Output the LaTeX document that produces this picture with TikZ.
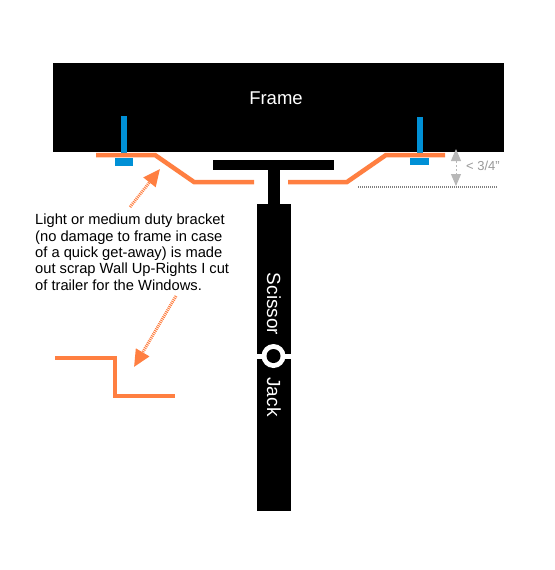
\documentclass[tikz,border=0pt]{standalone}
\usepackage{fontspec}
\setmainfont{Liberation Sans}
\usetikzlibrary{arrows.meta}
\definecolor{brk}{HTML}{FF7F41}
\definecolor{blt}{HTML}{0090D6}
\definecolor{dimc}{HTML}{B8B8B8}
\tikzset{
  bracket/.style={draw=brk,line width=4.5pt,line join=miter},
  solidbox/.style={fill=black,draw=none},
  bolt/.style={fill=blt,draw=none},
  pointer/.style={draw=brk,line width=3pt,dash pattern=on 1pt off 1pt,-{Triangle[length=17pt,width=15pt,fill=brk,sep=0pt]}},
  dimarrow/.style={draw=dimc,line width=1pt,dash pattern=on 2pt off 2pt,{Triangle[length=12pt,width=10pt,fill=dimc]}-{Triangle[length=12pt,width=10pt,fill=dimc]}},
  whitelabel/.style={text=white,inner sep=0pt},
}
\begin{document}
\begin{tikzpicture}[x=1pt,y=-1pt]
\useasboundingbox (0,0) rectangle (554,570);
% frame
\fill[solidbox] (53,63) rectangle (504,152);
\node[whitelabel,font=\fontsize{18.5}{20}\selectfont] (frame) at (276,98) {Frame};
% jack
\fill[solidbox] (213,160) rectangle (334,170);
\fill[solidbox] (268,170) rectangle (280,204);
\fill[solidbox] (257,204) rectangle (291,511);
\fill[white] (257,354) rectangle (291,358.5);
\fill[white] (273.5,356) circle (12);
\fill[black] (273.5,356) circle (7);
\node[whitelabel,rotate=-90,font=\fontsize{19}{20}\selectfont] (sc) at (274,304) {Scissor};
\node[whitelabel,rotate=-90,font=\fontsize{19}{20}\selectfont] (jk) at (274,397) {Jack};
% bolts
\fill[bolt] (121,116) rectangle (127,153);
\fill[bolt] (114.5,157.5) rectangle (133,166);
\fill[bolt] (417,117) rectangle (423,153);
\fill[bolt] (410,157.5) rectangle (429,165);
% brackets
\draw[bracket] (96,155) -- (155,155) -- (194,182) -- (254,182);
\draw[bracket] (445,155) -- (386,155) -- (347,182) -- (288,182);
\draw[bracket] (55,358) -- (115,358) -- (115,396) -- (175,396);
% text
\node[anchor=north west,inner sep=0pt,align=left,font=\fontsize{14.7}{16.3}\selectfont] (txt) at (35,214)
 {Light or medium duty bracket\\(no damage to frame in case\\of a quick get-away) is made\\out scrap Wall Up-Rights I cut\\of trailer for the Windows.};
% pointers
\coordinate (p1s) at (130,207); \coordinate (p1e) at (160,169);
\coordinate (p2s) at (176,296); \coordinate (p2e) at (134,367);
\draw[pointer] (p1s) -- (p1e);
\draw[pointer] (p2s) -- (p2e);
% dimension
\coordinate (d1) at (456,149); \coordinate (d2) at (456,186);
\coordinate (l1) at (358,187); \coordinate (l2) at (498,187);
\draw[dimarrow] (d1) -- (d2);
\draw[draw=gray,line width=1.2pt,dash pattern=on 1pt off 1pt] (l1) -- (l2);
\node[anchor=west,inner sep=0pt,text=gray!80!white,font=\fontsize{13}{15}\selectfont] (dl) at (466,166) {< 3/4"};
\end{tikzpicture}
\end{document}
